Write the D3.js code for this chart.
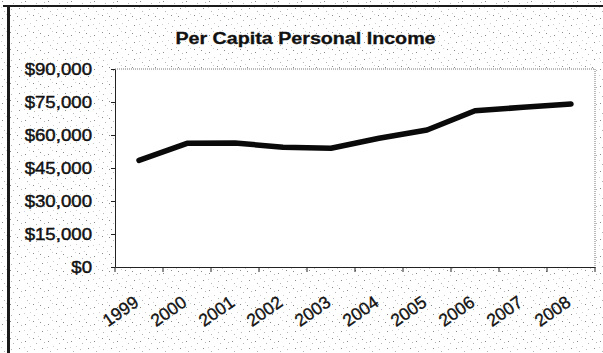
<!DOCTYPE html>
<html>
<head>
<meta charset="utf-8">
<script src="https://cdn.jsdelivr.net/npm/d3@7"></script>
<style>
  html, body { margin: 0; padding: 0; background: #fff; }
  svg { display: block; }
  text { font-family: "Liberation Sans", Arial, sans-serif; fill: #111; }
</style>
</head>
<body>
<svg id="chart" width="603" height="353"></svg>
<script>
// ---- data ----
const years = ["1999", "2000", "2001", "2002", "2003", "2004", "2005", "2006", "2007", "2008"];
const income = [48500, 56200, 56400, 54400, 54000, 58500, 62300, 71000, 72600, 74100];
const yTicks = [0, 15000, 30000, 45000, 60000, 75000, 90000];
const title = "Per Capita Personal Income";

const svg = d3.select("#chart");
const W = 603, H = 353;
const plot = { left: 115, right: 595, top: 69, bottom: 267 };

// stipple background (scanned look) - sparse, irregular
const defs = svg.append("defs");
const pat = defs.append("pattern").attr("id", "stip")
  .attr("width", 23).attr("height", 17).attr("patternUnits", "userSpaceOnUse");
pat.append("rect").attr("width", 23).attr("height", 17).attr("fill", "#fff");
const dots = [[2,1],[13,3],[7,6],[19,8],[4,11],[15,13],[10,15],[21,2],[1,7],[17,16],[11,9],[6,14]];
dots.forEach(([px, py], i) => {
  pat.append("rect").attr("x", px).attr("y", py).attr("width", 1).attr("height", 1)
    .attr("fill", ["#8a8a8a", "#b5b5b5", "#cfcfcf"][i % 3]);
});
svg.append("rect").attr("width", W).attr("height", H).attr("fill", "url(#stip)");

// outer chart border (top & left visible)
svg.append("line").attr("x1", 3).attr("x2", W).attr("y1", 6).attr("y2", 6)
  .attr("stroke", "#1a1a1a").attr("stroke-width", 2.2);
svg.append("line").attr("x1", 8.5).attr("x2", 8.5).attr("y1", 5).attr("y2", H)
  .attr("stroke", "#1a1a1a").attr("stroke-width", 3);

// plot area
svg.append("rect").attr("x", plot.left).attr("y", plot.top)
  .attr("width", plot.right - plot.left).attr("height", plot.bottom - plot.top)
  .attr("fill", "#fff");
svg.append("line").attr("x1", plot.left).attr("x2", plot.right).attr("y1", plot.top).attr("y2", plot.top)
  .attr("stroke", "#777").attr("stroke-width", 1).attr("stroke-dasharray", "1,1");
svg.append("line").attr("x1", plot.right).attr("x2", plot.right).attr("y1", plot.top).attr("y2", plot.bottom)
  .attr("stroke", "#777").attr("stroke-width", 1).attr("stroke-dasharray", "1,1");

// scales
const x = d3.scaleBand().domain(years).range([plot.left, plot.right]).padding(0);
const y = d3.scaleLinear().domain([0, 90000]).range([plot.bottom, plot.top]);

// title
svg.append("g").attr("transform", "translate(305.5,44) scale(1.23,1)")
  .append("text").attr("text-anchor", "middle")
  .attr("font-size", 16).attr("font-weight", "bold")
  .attr("stroke", "#111").attr("stroke-width", 0.3).text(title);

// y axis
const fmt = d => "$" + d3.format(",")(d);
const yAxis = svg.append("g").attr("transform", `translate(${plot.left},0)`)
  .call(d3.axisLeft(y).tickValues(yTicks).tickFormat(fmt).tickSize(4).tickSizeOuter(0));
yAxis.select(".domain").attr("stroke", "#222");
yAxis.selectAll(".tick line").attr("stroke", "#222");
yAxis.selectAll(".tick text")
  .attr("x", -23 / 1.13).attr("dy", "0.35em")
  .attr("transform", "scale(1.13,1)")
  .attr("font-size", 16.5).attr("fill", "#111")
  .attr("stroke", "#111").attr("stroke-width", 0.45)
  .attr("font-family", "'Liberation Sans', Arial, sans-serif");

// x axis
const xAxis = svg.append("g").attr("transform", `translate(0,${plot.bottom})`)
  .call(d3.axisBottom(x).tickSize(0).tickSizeOuter(0));
xAxis.select(".domain").attr("stroke", "#222");
// tick marks between categories
xAxis.selectAll(".sep").data(years.concat(["end"])).enter().append("line")
  .attr("class", "sep")
  .attr("x1", (d, i) => i < years.length ? x(d) : x(years[years.length - 1]) + x.bandwidth())
  .attr("x2", (d, i) => i < years.length ? x(d) : x(years[years.length - 1]) + x.bandwidth())
  .attr("y1", 0).attr("y2", 5).attr("stroke", "#222");
xAxis.selectAll(".tick text")
  .attr("text-anchor", "end")
  .attr("font-size", 17.5).attr("fill", "#111")
  .attr("stroke", "#111").attr("stroke-width", 0.35)
  .attr("font-family", "'Liberation Sans', Arial, sans-serif")
  .attr("y", 0).attr("dy", 0)
  .attr("transform", "translate(1,38) rotate(-35)");

// line
const line = d3.line().x((d, i) => x(years[i]) + x.bandwidth() / 2).y(d => y(d));
svg.append("path").datum(income)
  .attr("d", line).attr("fill", "none")
  .attr("stroke", "#0a0a0a").attr("stroke-width", 5.5)
  .attr("stroke-linejoin", "round").attr("stroke-linecap", "round");
</script>
</body>
</html>
